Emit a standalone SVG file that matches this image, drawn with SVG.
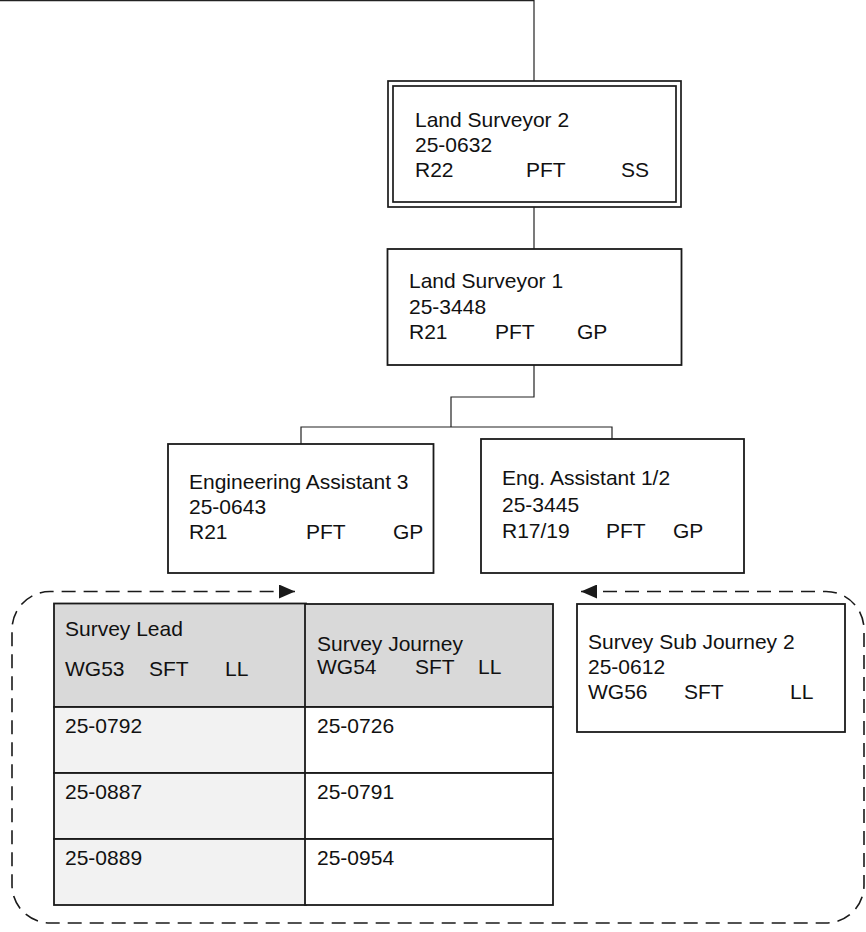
<svg xmlns="http://www.w3.org/2000/svg" width="866" height="932" viewBox="0 0 866 932">
<style>
.box{fill:#fff;stroke:#1a1a1a;stroke-width:1.8}
.hdr{fill:#d9d9d9;stroke:#1a1a1a;stroke-width:1.8}
.rowL{fill:#f2f2f2;stroke:#1a1a1a;stroke-width:1.8}
.rowR{fill:#fff;stroke:#1a1a1a;stroke-width:1.8}
.t{font-family:"Liberation Sans",Arial,sans-serif;font-size:21px;fill:#111}
.conn{fill:none;stroke:#222;stroke-width:1.2}
.dash{fill:none;stroke:#1a1a1a;stroke-width:1.6;stroke-dasharray:14 8}
</style>
<defs>
<marker id="ah" viewBox="0 0 16 14" refX="16" refY="7" markerWidth="16" markerHeight="14" markerUnits="userSpaceOnUse" orient="auto-start-reverse">
<path d="M0,0 L16,7 L0,14 z" fill="#1a1a1a"/>
</marker>
</defs>
<g id="connectors">
<path class="conn" d="M0,0.7 H534" stroke="#888"/>
<path class="conn" d="M534,0 V81"/>
<path class="conn" d="M534,207 V249"/>
<path class="conn" d="M534,365 V397 H451 V427"/>
<path class="conn" d="M301,444 V427 H612 V439"/>
<path class="dash" d="M581,591.5 H826 A38,38 0 0 1 864,629.5 V885 A38,38 0 0 1 826,923 H50 A38,38 0 0 1 12,885 V629.5 A38,38 0 0 1 50,591.5 H295" marker-start="url(#ah)" marker-end="url(#ah)"/>
</g>
<g id="land-surveyor-2">
<rect x="388" y="81" width="293" height="126" fill="#fff" stroke="#1a1a1a" stroke-width="1.7"/>
<rect x="393" y="86" width="283" height="116" fill="none" stroke="#1a1a1a" stroke-width="1.7"/>
<text class="t" x="415" y="127">Land Surveyor 2</text>
<text class="t" x="415" y="152">25-0632</text>
<text class="t" y="177"><tspan x="415">R22</tspan><tspan x="526">PFT</tspan><tspan x="621">SS</tspan></text>
</g>
<g id="land-surveyor-1">
<rect class="box" x="387.5" y="249" width="294" height="116"/>
<text class="t" x="409" y="288">Land Surveyor 1</text>
<text class="t" x="409" y="314">25-3448</text>
<text class="t" y="339"><tspan x="409">R21</tspan><tspan x="495">PFT</tspan><tspan x="577">GP</tspan></text>
</g>
<g id="engineering-assistant-3">
<rect class="box" x="168" y="444" width="265.5" height="129"/>
<text class="t" x="189" y="489">Engineering Assistant 3</text>
<text class="t" x="189" y="514">25-0643</text>
<text class="t" y="539"><tspan x="189">R21</tspan><tspan x="306">PFT</tspan><tspan x="393">GP</tspan></text>
</g>
<g id="eng-assistant-1-2">
<rect class="box" x="481" y="439" width="263" height="134"/>
<text class="t" x="502" y="485">Eng. Assistant 1/2</text>
<text class="t" x="502" y="512">25-3445</text>
<text class="t" y="538"><tspan x="502">R17/19</tspan><tspan x="606">PFT</tspan><tspan x="673">GP</tspan></text>
</g>
<g id="survey-lead">
<rect class="hdr" x="54" y="603.5" width="252" height="103.5"/>
<rect class="rowL" x="54" y="707" width="252" height="66"/>
<rect class="rowL" x="54" y="773" width="252" height="66"/>
<rect class="rowL" x="54" y="839" width="252" height="66"/>
<text class="t" x="65" y="636">Survey Lead</text>
<text class="t" y="676"><tspan x="65">WG53</tspan><tspan x="149">SFT</tspan><tspan x="225">LL</tspan></text>
<text class="t" x="65" y="733">25-0792</text>
<text class="t" x="65" y="799">25-0887</text>
<text class="t" x="65" y="865">25-0889</text>
</g>
<g id="survey-journey">
<rect class="hdr" x="305" y="604" width="248" height="103"/>
<rect class="rowR" x="305" y="707" width="248" height="66"/>
<rect class="rowR" x="305" y="773" width="248" height="66"/>
<rect class="rowR" x="305" y="839" width="248" height="66"/>
<text class="t" x="317" y="651">Survey Journey</text>
<text class="t" y="674"><tspan x="317">WG54</tspan><tspan x="415">SFT</tspan><tspan x="478">LL</tspan></text>
<text class="t" x="317" y="733">25-0726</text>
<text class="t" x="317" y="799">25-0791</text>
<text class="t" x="317" y="865">25-0954</text>
</g>
<g id="survey-sub-journey-2">
<rect class="box" x="577" y="604" width="268" height="128"/>
<text class="t" x="588" y="649">Survey Sub Journey 2</text>
<text class="t" x="588" y="674">25-0612</text>
<text class="t" y="699"><tspan x="588">WG56</tspan><tspan x="684">SFT</tspan><tspan x="790">LL</tspan></text>
</g>
</svg>
